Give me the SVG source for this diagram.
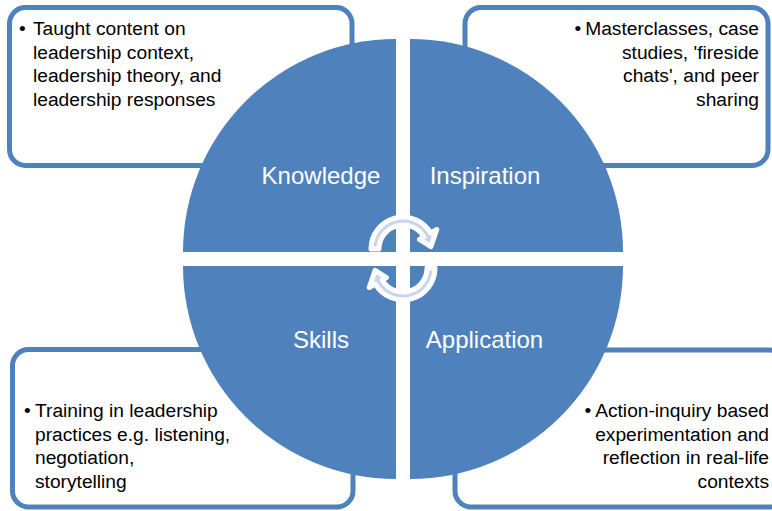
<svg xmlns="http://www.w3.org/2000/svg" width="772" height="511" viewBox="0 0 772 511">
  <style>
    .box { fill: #ffffff; stroke: #4f81bd; stroke-width: 5; }
    .quad { fill: #4f81bd; }
    .txt { font-family: "Liberation Sans", Arial, sans-serif; font-size: 19.2px; fill: #000000; }
    .end { text-anchor: end; }
    .lbl { font-family: "Liberation Sans", Arial, sans-serif; font-size: 24px; fill: #ffffff; text-anchor: middle; }
    .cyc { fill: #c9d5ea; stroke: #ffffff; stroke-width: 5; stroke-linejoin: round; }
  </style>
  <rect width="772" height="511" fill="#ffffff"/>

  <g id="box-knowledge">
    <rect class="box" x="9.5" y="7.5" width="342.5" height="158" rx="16"/>
    <text class="txt" x="19" y="35">•</text>
    <text class="txt" x="33" y="35">Taught content on</text>
    <text class="txt" x="33" y="58.5">leadership context,</text>
    <text class="txt" x="33" y="82">leadership theory, and</text>
    <text class="txt" x="33" y="105.5">leadership responses</text>
  </g>

  <g id="box-inspiration">
    <rect class="box" x="465" y="7.5" width="303" height="158" rx="16"/>
    <text class="txt end" x="759" y="35">•<tspan dx="4">Masterclasses, case</tspan></text>
    <text class="txt end" x="759" y="58.5">studies, 'fireside</text>
    <text class="txt end" x="759" y="82">chats', and peer</text>
    <text class="txt end" x="759" y="105.5">sharing</text>
  </g>

  <g id="box-skills">
    <rect class="box" x="12.5" y="349.5" width="340.5" height="157.5" rx="16"/>
    <text class="txt" x="24" y="417">•</text>
    <text class="txt" x="35" y="417">Training in leadership</text>
    <text class="txt" x="35" y="440.5">practices e.g. listening,</text>
    <text class="txt" x="35" y="464">negotiation,</text>
    <text class="txt" x="35" y="487.5">storytelling</text>
  </g>

  <g id="box-application">
    <rect class="box" x="455" y="350" width="330" height="157" rx="16"/>
    <text class="txt end" x="769" y="417">•<tspan dx="4">Action-inquiry based</tspan></text>
    <text class="txt end" x="769" y="440.5">experimentation and</text>
    <text class="txt end" x="769" y="464">reflection in real-life</text>
    <text class="txt end" x="769" y="487.5">contexts</text>
  </g>

  <g id="knowledge">
    <path class="quad" d="M396,252 L183,252 A213,213 0 0,1 396,39 Z"/>
    <text class="lbl" x="321" y="184">Knowledge</text>
  </g>
  <g id="inspiration">
    <path class="quad" d="M410,252 L410,39 A213,213 0 0,1 623,252 Z"/>
    <text class="lbl" x="485" y="184">Inspiration</text>
  </g>
  <g id="skills">
    <path class="quad" d="M396,266 L396,479 A213,213 0 0,1 183,266 Z"/>
    <text class="lbl" x="321" y="348">Skills</text>
  </g>
  <g id="application">
    <path class="quad" d="M410,266 L623,266 A213,213 0 0,1 410,479 Z"/>
    <text class="lbl" x="484.5" y="348">Application</text>
  </g>

  <g id="connectors">
    <path id="cycle-top" class="cyc" d="M371,249 A32,32 0 0,1 430.7,233 L436.8,229.5 L430.9,246.6 L419.5,239.5 L423.8,237 A24,24 0 0,0 379,249 Z"/>
    <path id="cycle-bottom" class="cyc" transform="rotate(180 403 258.5)" d="M371,249 A32,32 0 0,1 430.7,233 L436.8,229.5 L430.9,246.6 L419.5,239.5 L423.8,237 A24,24 0 0,0 379,249 Z"/>
  </g>
</svg>
